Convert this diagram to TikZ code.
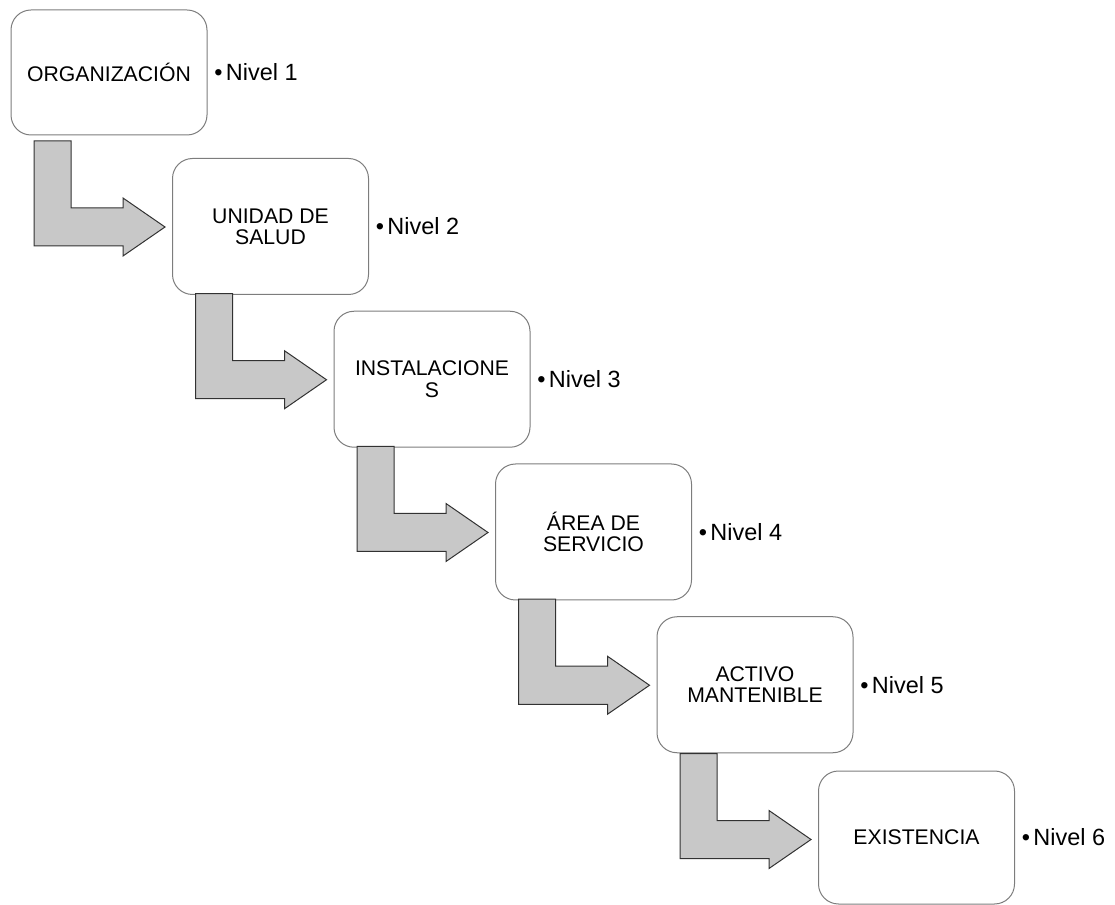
\documentclass[tikz,border=0pt]{standalone}
\usepackage{fontspec}
\setmainfont{Liberation Sans}
\usetikzlibrary{calc,positioning}
\definecolor{boxgray}{RGB}{125,125,125}
\definecolor{arrowgray}{RGB}{200,200,200}
\definecolor{arrowedge}{RGB}{50,50,50}

\begin{document}
\begin{tikzpicture}[x=0.75pt, y=-0.75pt,
    nivelbox/.style={draw=boxgray, line width=0.75pt, rounded corners=15pt, minimum width=147pt, minimum height=102pt, inner sep=0pt, align=center, font=\fontsize{15.9}{15.9}\selectfont},
    nivel/.style={inner sep=0pt, font=\fontsize{17.6}{17.6}\selectfont},
    paso/.style={fill=arrowgray, draw=arrowedge, line width=0.75pt, line join=miter}]
  \useasboundingbox (0,0) rectangle (1115,905);

  \node[nivelbox, minimum height=93.75pt] (org) at (109,72.5) {ORGANIZACIÓN};
  \node[nivelbox] (uni) at (270.5,226.5) {UNIDAD DE\\SALUD};
  \node[nivelbox] (ins) at (432,379.25) {INSTALACIONE\\S};
  \node[nivelbox] (are) at (593.5,532) {ÁREA DE\\SERVICIO};
  \node[nivelbox] (act) at (755,684.75) {ACTIVO\\MANTENIBLE};
  \node[nivelbox, minimum height=99.75pt] (exi) at (916.5,837.5) {EXISTENCIA};

  \node[nivel, right=5pt of org] (n1) {\textbullet\hspace{2.5pt}Nivel 1};
  \node[nivel, right=5pt of uni] (n2) {\textbullet\hspace{2.5pt}Nivel 2};
  \node[nivel, right=5pt of ins] (n3) {\textbullet\hspace{2.5pt}Nivel 3};
  \node[nivel, right=5pt of are] (n4) {\textbullet\hspace{2.5pt}Nivel 4};
  \node[nivel, right=5pt of act] (n5) {\textbullet\hspace{2.5pt}Nivel 5};
  \node[nivel, right=5pt of exi] (n6) {\textbullet\hspace{2.5pt}Nivel 6};

  % bent arrows, each one leading into the next box
  \foreach \b in {uni,ins,are,act,exi} {
    \draw[paso] ($(\b.north west)+(-138,-17)$) -- ++(37,0) -- ++(0,67) -- ++(52,0) -- ++(0,-10)
      -- ++(42,29) -- ++(-42,29) -- ++(0,-10) -- ++(-89,0) -- cycle;
  }
\end{tikzpicture}
\end{document}
